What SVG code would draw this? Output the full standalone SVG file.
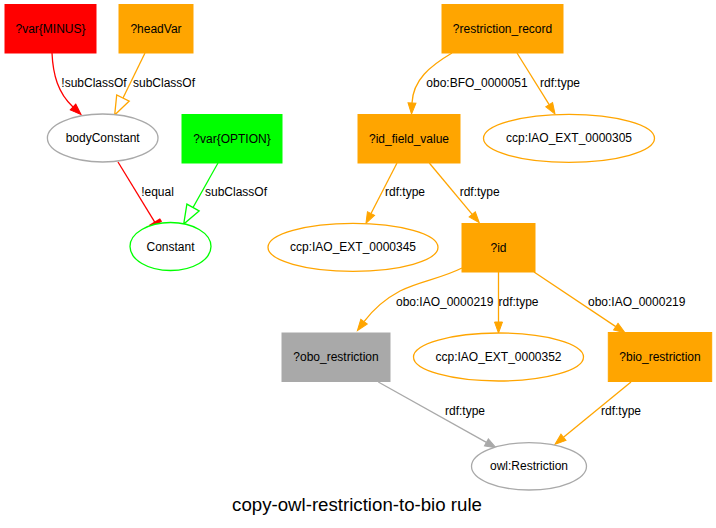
<svg xmlns="http://www.w3.org/2000/svg" width="716" height="528" viewBox="0 0 716 528">
<style>
text{font-family:"Liberation Sans",Arial,sans-serif;font-size:12px;fill:#000;text-anchor:middle}
.title{font-size:18.67px}
.e{fill:none;stroke-width:1.3}
.red{stroke:#ff0000}.org{stroke:#ffa500}.gry{stroke:#a9a9a9}.grn{stroke:#00ff00}
.nr{stroke-width:1}
.el{fill:#fff;stroke-width:1.3}
</style>
<defs>
<marker id="aRed" markerUnits="userSpaceOnUse" viewBox="0 -6 13 12" markerWidth="13" markerHeight="12" refX="0" refY="0" orient="auto" overflow="visible"><path d="M0,-4 L11,0 L0,4 Z" fill="#ff0000" stroke="#ff0000" stroke-width="1"/></marker>
<marker id="aOrg" markerUnits="userSpaceOnUse" viewBox="0 -6 13 12" markerWidth="13" markerHeight="12" refX="0" refY="0" orient="auto" overflow="visible"><path d="M0,-4 L11,0 L0,4 Z" fill="#ffa500" stroke="#ffa500" stroke-width="1"/></marker>
<marker id="aGry" markerUnits="userSpaceOnUse" viewBox="0 -6 13 12" markerWidth="13" markerHeight="12" refX="0" refY="0" orient="auto" overflow="visible"><path d="M0,-4 L11,0 L0,4 Z" fill="#a9a9a9" stroke="#a9a9a9" stroke-width="1"/></marker>
<marker id="hOrg" markerUnits="userSpaceOnUse" viewBox="-1 -8 21 16" markerWidth="21" markerHeight="16" refX="0" refY="0" orient="auto" overflow="visible"><path d="M0,-7 L19,0 L0,7 Z" fill="#fff" stroke="#ffa500" stroke-width="1.3"/></marker>
<marker id="hGrn" markerUnits="userSpaceOnUse" viewBox="-1 -8 21 16" markerWidth="21" markerHeight="16" refX="0" refY="0" orient="auto" overflow="visible"><path d="M0,-7 L19,0 L0,7 Z" fill="#fff" stroke="#00ff00" stroke-width="1.3"/></marker>
<marker id="tRed" markerUnits="userSpaceOnUse" viewBox="-3 -8 6 16" markerWidth="6" markerHeight="16" refX="0" refY="0" orient="auto" overflow="visible"><rect x="-2" y="-6.5" width="4" height="13" fill="#ff0000"/></marker>
</defs>
<rect width="716" height="528" fill="#fff"/>
<g id="edges">
<path class="e red" d="M52,53 C53,75 58,93 73,107" marker-end="url(#aRed)"/>
<text x="94" y="86.5">!subClassOf</text>
<path class="e org" d="M145,53 L123,98" marker-end="url(#hOrg)"/>
<text x="164" y="86.5">subClassOf</text>
<path class="e red" d="M118,162 L155.5,223.3" marker-end="url(#tRed)"/>
<text x="157.5" y="196">!equal</text>
<path class="e grn" d="M218,163 L193,207.5" marker-end="url(#hGrn)"/>
<text x="236" y="196">subClassOf</text>
<path class="e org" d="M452,53 C430,66 413,80 412,103" marker-end="url(#aOrg)"/>
<text x="477" y="87">obo:BFO_0000051</text>
<path class="e org" d="M517,53 L549.2,104.7" marker-end="url(#aOrg)"/>
<text x="560" y="87">rdf:type</text>
<path class="e org" d="M397,163 L371,213.5" marker-end="url(#aOrg)"/>
<text x="405" y="196">rdf:type</text>
<path class="e org" d="M429.3,163 L472.2,214.3" marker-end="url(#aOrg)"/>
<text x="479.7" y="196">rdf:type</text>
<path class="e org" d="M462,268 C440,279 420,281 400,291 C385,299 372,311 364,321.7" marker-end="url(#aOrg)"/>
<text x="444.7" y="305.5">obo:IAO_0000219</text>
<path class="e org" d="M498.5,272 L498.5,322" marker-end="url(#aOrg)"/>
<text x="518.5" y="305.5">rdf:type</text>
<path class="e org" d="M534,272 L615.8,326.6" marker-end="url(#aOrg)"/>
<text x="636.7" y="305.5">obo:IAO_0000219</text>
<path class="e gry" d="M378.3,382 L486.4,442.4" marker-end="url(#aGry)"/>
<text x="465" y="415">rdf:type</text>
<path class="e org" d="M631,382 L563.5,437.3" marker-end="url(#aOrg)"/>
<text x="621" y="415">rdf:type</text>
</g>
<g id="n_var_minus"><rect x="5" y="4.5" width="91" height="48.5" fill="#ff0000" stroke="#ff0000" class="nr"/><text x="50.5" y="32.5">?var{MINUS}</text></g>
<g id="n_headVar"><rect x="119" y="4.5" width="74" height="48.5" fill="#ffa500" stroke="#ffa500" class="nr"/><text x="156" y="32.5">?headVar</text></g>
<g id="n_bodyConstant"><ellipse cx="102.7" cy="138" rx="55.3" ry="24" class="el gry"/><text x="102.7" y="142">bodyConstant</text></g>
<g id="n_var_option"><rect x="182" y="114.5" width="100" height="48.5" fill="#00ff00" stroke="#00ff00" class="nr"/><text x="232" y="142.5">?var{OPTION}</text></g>
<g id="n_Constant"><ellipse cx="170.5" cy="246.5" rx="40.5" ry="24" class="el grn"/><text x="170.5" y="250.5">Constant</text></g>
<g id="n_restriction_record"><rect x="442" y="4.5" width="121" height="48.5" fill="#ffa500" stroke="#ffa500" class="nr"/><text x="502.5" y="32.5">?restriction_record</text></g>
<g id="n_id_field_value"><rect x="358" y="114.5" width="102" height="48.5" fill="#ffa500" stroke="#ffa500" class="nr"/><text x="409" y="142.5">?id_field_value</text></g>
<g id="n_ccp305"><ellipse cx="569" cy="138.3" rx="85.5" ry="24" class="el org"/><text x="569" y="142.3">ccp:IAO_EXT_0000305</text></g>
<g id="n_ccp345"><ellipse cx="353" cy="247.3" rx="85" ry="24" class="el org"/><text x="353" y="251.3">ccp:IAO_EXT_0000345</text></g>
<g id="n_id"><rect x="462" y="223.5" width="73" height="48.5" fill="#ffa500" stroke="#ffa500" class="nr"/><text x="498.5" y="251.5">?id</text></g>
<g id="n_obo_restriction"><rect x="282" y="333" width="108" height="48.5" fill="#a9a9a9" stroke="#a9a9a9" class="nr"/><text x="336" y="361">?obo_restriction</text></g>
<g id="n_ccp352"><ellipse cx="498.5" cy="357" rx="85" ry="24" class="el org"/><text x="498.5" y="361">ccp:IAO_EXT_0000352</text></g>
<g id="n_bio_restriction"><rect x="608.3" y="332.5" width="103.4" height="49" fill="#ffa500" stroke="#ffa500" class="nr"/><text x="660" y="361">?bio_restriction</text></g>
<g id="n_owlRestriction"><ellipse cx="529" cy="466.3" rx="57.5" ry="23.7" class="el gry"/><text x="529" y="470.3">owl:Restriction</text></g>
<text class="title" x="357" y="511">copy-owl-restriction-to-bio rule</text>
</svg>
